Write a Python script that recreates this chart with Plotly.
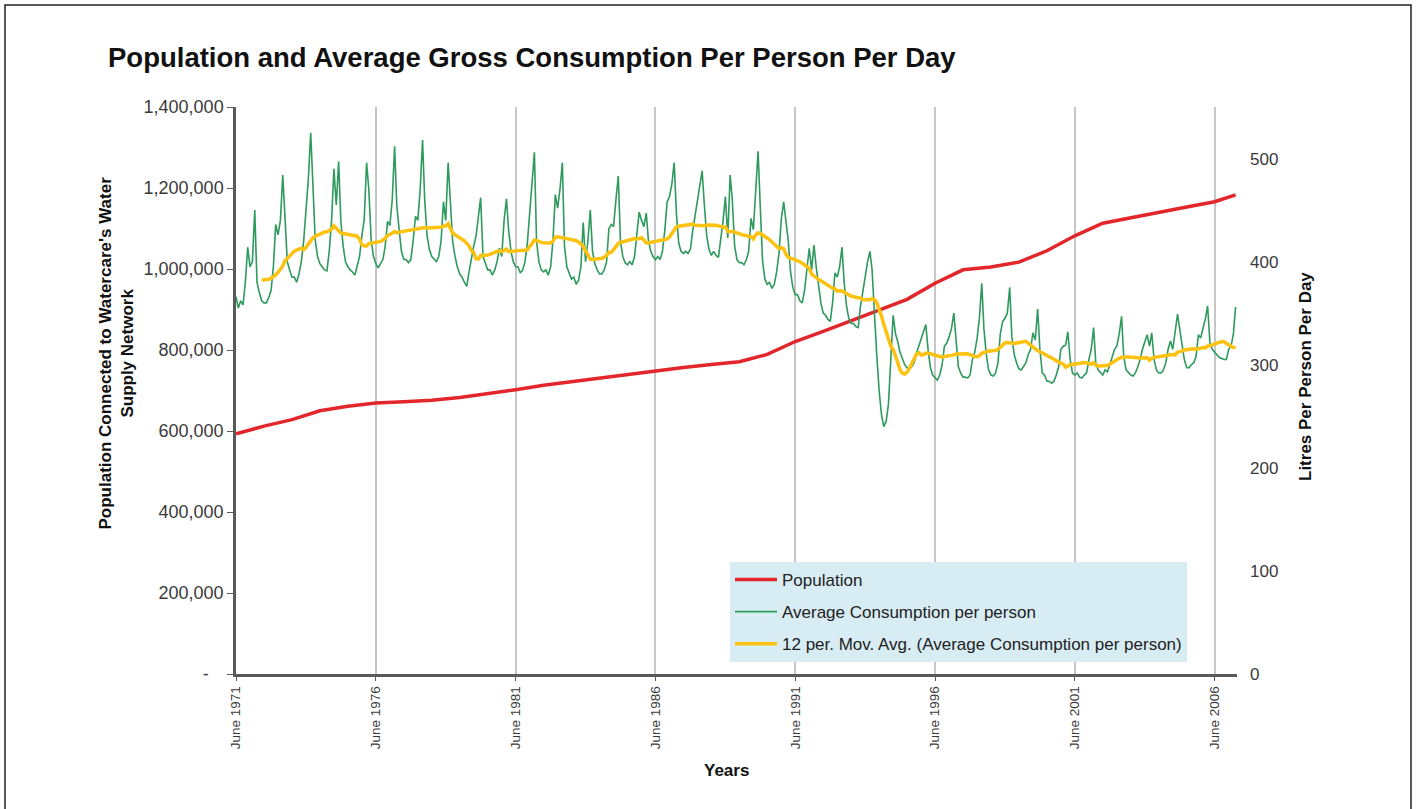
import pandas as pd
import plotly.graph_objects as go

# ---------------- data ----------------
# Average gross consumption per person per day (litres), monthly from June 1971 to March 2007
consumption_lpd = [
    366,
    355, 362, 358, 380, 414, 395, 400, 450, 380, 370, 362, 360,   # 1971-72
    360, 365, 372, 395, 436, 426, 440, 484, 440, 400, 392, 385,   # 1972-73
    385, 380, 388, 400, 420, 450, 480, 525, 470, 421, 405, 398,   # 1973-74
    395, 392, 391, 410, 440, 490, 455, 497, 440, 415, 400, 395,   # 1974-75
    392, 390, 387, 395, 405, 425, 441, 496, 470, 421, 405, 398,   # 1975-76
    394, 398, 402, 415, 439, 435, 460, 512, 455, 431, 410, 402,   # 1976-77
    402, 399, 402, 420, 444, 440, 470, 518, 460, 425, 412, 405,   # 1977-78
    402, 400, 405, 420, 458, 440, 496, 450, 420, 405, 395, 388,   # 1978-79
    385, 380, 376, 390, 405, 415, 425, 445, 462, 405, 398, 392,   # 1979-80
    392, 387, 392, 400, 413, 405, 440, 461, 431, 410, 400, 395,   # 1980-81
    395, 389, 392, 400, 418, 447, 470, 506, 420, 400, 392, 390,   # 1981-82
    392, 387, 395, 420, 465, 452, 470, 496, 415, 395, 389, 383,   # 1982-83
    385, 378, 382, 395, 438, 400, 420, 450, 410, 398, 392, 388,   # 1983-84
    388, 392, 400, 432, 436, 434, 460, 483, 420, 405, 399, 397,   # 1984-85
    400, 397, 405, 425, 448, 440, 434, 447, 421, 410, 405, 402,   # 1985-86
    405, 402, 410, 430, 458, 463, 475, 496, 448, 418, 410, 408,   # 1986-87
    410, 408, 412, 430, 445, 460, 475, 488, 455, 425, 412, 406,   # 1987-88
    410, 406, 404, 420, 440, 463, 423, 484, 460, 415, 402, 399,   # 1988-89
    399, 397, 402, 410, 442, 431, 470, 507, 454, 400, 383, 378,   # 1989-90
    380, 374, 378, 390, 408, 441, 458, 440, 421, 390, 375, 368,   # 1990-91
    368, 362, 360, 372, 395, 413, 392, 416, 395, 376, 360, 350,   # 1991-92
    348, 344, 342, 360, 389, 385, 395, 414, 380, 357, 345, 340,   # 1992-93
    340, 337, 336, 357, 370, 385, 400, 410, 392, 345, 310, 275,   # 1993-94
    252, 240, 245, 262, 300, 348, 330, 322, 312, 305, 300, 297,   # 1994-95
    296, 298, 302, 311, 318, 324, 332, 339, 315, 297, 290, 287,   # 1995-96
    285, 290, 300, 318, 321, 327, 335, 350, 324, 298, 292, 288,   # 1996-97
    288, 287, 290, 305, 312, 325, 345, 379, 335, 310, 295, 290,   # 1997-98
    289, 292, 302, 330, 342, 345, 350, 375, 327, 310, 302, 296,   # 1998-99
    295, 298, 302, 310, 315, 331, 324, 354, 315, 292, 290, 284,   # 1999-00
    284, 282, 284, 290, 298, 315, 318, 319, 332, 305, 292, 290,   # 2000-01
    292, 288, 287, 290, 292, 305, 315, 336, 302, 295, 292, 290,   # 2001-02
    295, 293, 300, 308, 315, 318, 330, 347, 308, 295, 292, 290,   # 2002-03
    289, 292, 298, 305, 315, 322, 329, 318, 331, 305, 295, 292,   # 2003-04
    292, 295, 302, 315, 323, 315, 330, 349, 335, 318, 305, 297,   # 2004-05
    297, 300, 302, 308, 329, 326, 335, 345, 357, 321, 315, 312,   # 2005-06
    310, 307, 306, 305, 305, 315, 318, 330, 356,                  # 2006-07
]
consumption_start = "1971-06-01"

# Population connected to the network (June of each year, last point March 2007)
population_dates = [f"{y}-06-01" for y in range(1971, 2007)] + ["2007-03-01"]
population = [
    593000, 612000, 628000, 650000, 661000, 669000, 672000, 676000, 683000, 692000,
    702000, 713000, 722000, 731000, 741000, 750000, 757000, 764000, 771000, 789000,
    821000, 846000, 872000, 898000, 925000, 965000, 998000, 1005000, 1017000, 1045000,
    1082000, 1113000, 1127000, 1140000, 1153000, 1166000, 1183000,
]

x_tick_years = [1971, 1976, 1981, 1986, 1991, 1996, 2001, 2006]
left_ticks = [0, 200000, 400000, 600000, 800000, 1000000, 1200000, 1400000]
right_ticks = [0, 100, 200, 300, 400, 500]

# ---------------- build ----------------
months = pd.date_range(consumption_start, periods=len(consumption_lpd), freq="MS")
cons = pd.Series(consumption_lpd, index=months)
mov_avg = cons.rolling(12).mean()

FONT = "Arial, 'Liberation Sans', sans-serif"
fig = go.Figure()

fig.add_trace(go.Scatter(
    x=population_dates, y=population, name="Population", mode="lines",
    legendgroup="a", line=dict(color="#e3262b", width=3.5), yaxis="y"))
fig.add_trace(go.Scatter(
    x=months, y=cons.values, name="Average Consumption per person", mode="lines",
    legendgroup="b", line=dict(color="#2e9a5e", width=1.6), yaxis="y2"))
fig.add_trace(go.Scatter(
    x=months, y=mov_avg.values, name="12 per. Mov. Avg. (Average Consumption per person)",
    legendgroup="c", mode="lines", line=dict(color="#fcc20f", width=3.5), yaxis="y2"))

tick_col = "#3a3a3a"
fig.update_layout(
    width=1417, height=809,
    margin=dict(l=236, r=180, t=107, b=135),
    paper_bgcolor="white", plot_bgcolor="white",
    font=dict(family=FONT, color=tick_col),
    showlegend=True,
    legend=dict(x=0.4935, y=0.1975, xanchor="left", yanchor="top",
                bgcolor="#d8ecf4", borderwidth=0,
                font=dict(size=17, color="#222"), tracegroupgap=7,
                itemwidth=42),
    title=dict(text="<b>Population and Average Gross Consumption Per Person Per Day</b>",
               x=108 / 1417, xanchor="left", xref="container",
               y=1 - 57 / 809, yanchor="middle", yref="container",
               font=dict(size=27.5, color="#111", family=FONT)),
    xaxis=dict(
        type="date", range=["1971-06-01", "2007-03-20"],
        tickvals=[f"{y}-06-01" for y in x_tick_years],
        ticktext=[f"June {y}" for y in x_tick_years],
        tickangle=-90, tickfont=dict(size=13.5, color=tick_col),
        showgrid=True, gridcolor="#c6c6c6", gridwidth=1.5,
        showline=True, linecolor="#5a5a5a", linewidth=2.5,
        ticks="outside", ticklen=4, tickcolor="#5a5a5a",
        zeroline=False),
    yaxis=dict(
        range=[0, 1400000], tickvals=left_ticks,
        ticktext=["-\u00a0\u00a0\u00a0"] + [f"{v:,}" for v in left_ticks[1:]],
        tickfont=dict(size=18, color=tick_col),
        showgrid=False, zeroline=False,
        showline=True, linecolor="#5a5a5a", linewidth=2.5,
        ticks="outside", ticklen=6, tickcolor="#5a5a5a", ticklabelstandoff=0),
    yaxis2=dict(
        range=[0, 550], tickvals=right_ticks, overlaying="y", side="right",
        tickfont=dict(size=17, color=tick_col),
        showgrid=False, zeroline=False, showline=False,
        ticks="", ticklabelstandoff=12),
)

axis_title_font = dict(size=17, color="#111", family=FONT)
fig.add_annotation(text="<b>Population Connected to Watercare's Water<br>Supply Network</b>",
                   xref="paper", yref="paper", x=(115.5 - 236) / 1001, y=(674 - 353) / 567,
                   xanchor="center", yanchor="middle", textangle=-90, showarrow=False,
                   font=axis_title_font)
fig.add_annotation(text="<b>Litres Per Person Per Day</b>",
                   xref="paper", yref="paper", x=(1305 - 236) / 1001, y=(674 - 377) / 567,
                   xanchor="center", yanchor="middle", textangle=-90, showarrow=False,
                   font=axis_title_font)
fig.add_annotation(text="<b>Years</b>",
                   xref="paper", yref="paper", x=(726 - 236) / 1001, y=(674 - 770) / 567,
                   xanchor="center", yanchor="middle", showarrow=False,
                   font=axis_title_font)

# outer frame of the picture
fig.add_shape(type="rect", xref="paper", yref="paper",
              x0=(5 - 236) / 1001, x1=(1411 - 236) / 1001,
              y0=(674 - 820) / 567, y1=(674 - 5) / 567,
              line=dict(color="#222", width=1.5), fillcolor="rgba(0,0,0,0)", layer="below")

fig.write_html("out.html", config={"displayModeBar": False},
               post_script="document.body.style.margin='0px';")
